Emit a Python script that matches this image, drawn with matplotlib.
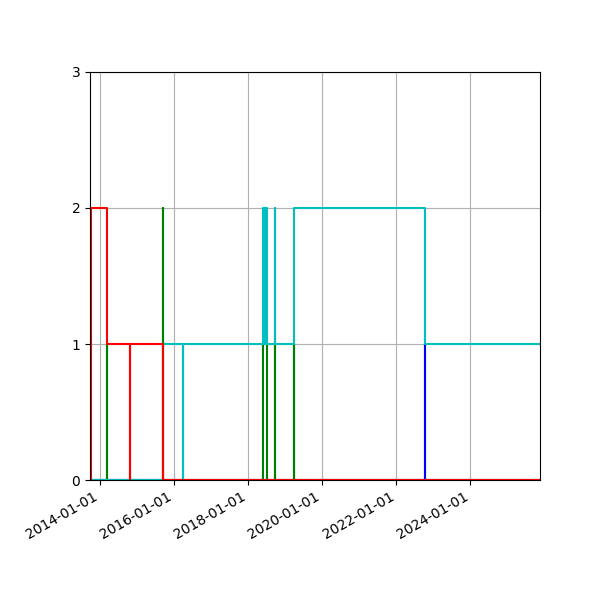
import matplotlib
matplotlib.use("Agg")
import matplotlib.pyplot as plt
import matplotlib.dates as mdates
import pandas as pd

green_t = ["2013-09-24","2014-03-11","2014-03-15","2015-09-14","2015-09-18",
           "2018-05-26","2018-07-05","2018-09-20","2018-09-24","2019-03-26","2019-03-30","2025-11-17"]
green_v = [0,1,0,2,0,1,0,1,0,1,0,0]
blue_t = ["2013-09-24","2022-10-10","2022-10-14","2025-11-17"]
blue_v = [0,1,0,0]
cyan_t = ["2013-09-24","2015-09-14","2016-03-27","2016-03-31","2018-05-26","2018-06-08",
          "2018-06-12","2018-06-24","2018-06-28","2018-07-05","2018-09-20","2018-09-24",
          "2019-03-28","2022-10-10","2025-11-17"]
cyan_v = [0,1,0,1,2,1,2,1,2,1,2,1,2,1,1]
red_t = ["2013-09-24","2013-10-04","2014-03-11","2014-10-23","2014-10-26","2015-09-14","2025-11-17"]
red_v = [0,2,1,0,1,0,0]

fig = plt.figure(figsize=(6,6), dpi=100)
ax = fig.add_axes([0.15, 0.2, 0.75, 0.68])
for t, v, c in [(green_t, green_v, "g"), (blue_t, blue_v, "b"), (cyan_t, cyan_v, "c"), (red_t, red_v, "r")]:
    ax.plot(pd.to_datetime(t), v, color=c, drawstyle="steps-post", lw=1.5)
ax.set_xlim(pd.Timestamp("2013-09-24"), pd.Timestamp("2025-11-17"))
ax.set_ylim(0, 3)
ax.set_yticks([0,1,2,3])
ax.xaxis.set_major_locator(mdates.YearLocator(2))
ax.xaxis.set_major_formatter(mdates.DateFormatter("%Y-%m-%d"))
ax.grid(True)
for lbl in ax.get_xticklabels():
    lbl.set_rotation(30); lbl.set_ha("right")
fig.savefig("out.png")
